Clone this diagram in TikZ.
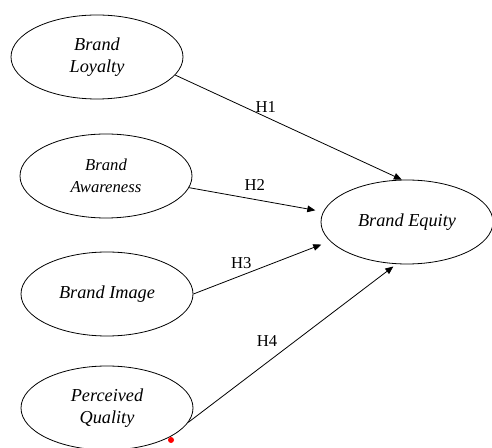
\documentclass[tikz,border=0pt]{standalone}
\usepackage{fontspec}
\setmainfont{Liberation Serif}
\usepackage{tikz}
\usetikzlibrary{shapes.geometric, arrows.meta}

\begin{document}
\begin{tikzpicture}[
    x=0.75pt, y=-0.75pt,
    every node/.style={align=center},
    construct/.style={ellipse, draw, line width=0.6pt, minimum width=129pt, minimum height=63pt,
        inner sep=1pt, font=\fontsize{13.7}{17}\selectfont\itshape},
    small/.style={font=\fontsize{12.5}{16.5}\selectfont\itshape},
    hyp/.style={font=\fontsize{12.5}{15}\selectfont},
    path/.style={-{Triangle[length=6pt, width=5pt]}, line width=0.6pt},
    reddot/.style={circle, fill=red, inner sep=0pt, minimum size=4.5pt}
]
\useasboundingbox (0,0) rectangle (492,448);

% constructs
\node[construct] (loyalty) at (97,57) {Brand\\Loyalty};
\node[construct, small] (awareness) at (106,176) {Brand\\Awareness};
\node[construct] (image) at (107,294) {Brand Image};
\node[construct] (quality) at (107,408) {Perceived\\Quality};
\node[construct] (equity) at (407,222) {Brand Equity};

% hypotheses
\draw[path] (loyalty.-13) -- node[hyp, above, pos=0.40] {H1} (equity.97);
\draw[path, shorten >=6pt] (awareness.-8) -- node[hyp, above=3pt, pos=0.49] {H2} (equity.173);
\draw[path, shorten >=7pt] (image.east) -- node[hyp, above=1.5pt, pos=0.35] {H3} (equity.194);
\draw[path, shorten >=3pt] (quality.-10) -- node[hyp, above left, pos=0.45] {H4} (equity.256);

% marker
\node[reddot] (dot) at (171,440) {};

\end{tikzpicture}
\end{document}
